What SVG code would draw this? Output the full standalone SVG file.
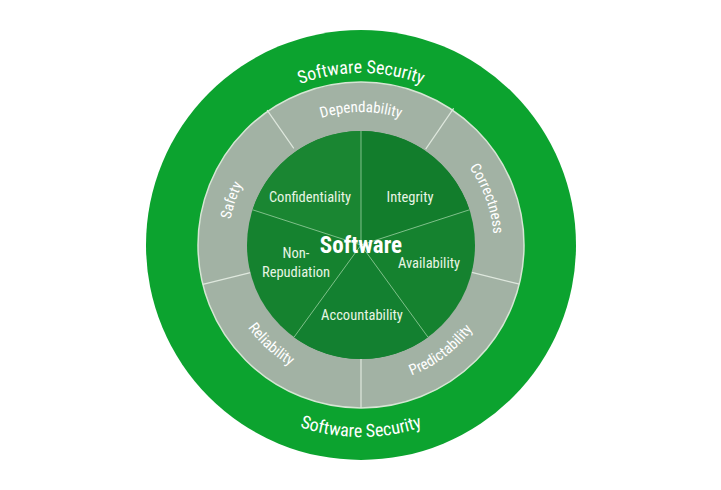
<svg xmlns="http://www.w3.org/2000/svg" width="721" height="490" viewBox="0 0 721 490">
<style>
.t{fill:#fff;font-family:"Liberation Sans Narrow","Roboto Condensed","DejaVu Sans Condensed",sans-serif;text-anchor:middle}
.in{fill:#e8f5e4;font-size:14.5px}
.ring{font-size:15px}
.sec{font-size:18px}
.div{stroke:#dfe8de;stroke-width:1.2}
.sp{stroke:#7fc08a;stroke-width:1}
</style>
<defs>
<path id="cw133" d="M361,378 A133,133 0 1 1 361,112 A133,133 0 1 1 361,378"/>
<path id="cw172" d="M361,417 A172,172 0 1 1 361,73 A172,172 0 1 1 361,417"/>
<path id="ccw140" d="M361,105 A140,140 0 1 0 361,385 A140,140 0 1 0 361,105"/>
<path id="ccw192" d="M361,53 A192,192 0 1 0 361,437 A192,192 0 1 0 361,53"/>
</defs>
<rect width="721" height="490" fill="#fff"/>
<g id="outer">
<circle cx="361" cy="245" r="215" fill="#0ca32f"/>
<text class="t sec"><textPath href="#cw172" startOffset="50%">Software Security</textPath></text>
<text class="t sec"><textPath href="#ccw192" startOffset="50%">Software Security</textPath></text>
</g>
<g id="ring">
<circle cx="361" cy="245" r="163" fill="#a2b2a4" stroke="#d6e6d4" stroke-width="1.5"/>
<text class="t ring"><textPath href="#cw133" startOffset="50%">Dependability</textPath></text>
<text class="t ring"><textPath href="#cw133" startOffset="69.4%">Correctness</textPath></text>
<text class="t ring"><textPath href="#cw133" startOffset="30.3%">Safety</textPath></text>
<text class="t ring"><textPath href="#ccw140" startOffset="60.3%">Predictability</textPath></text>
<text class="t ring"><textPath href="#ccw140" startOffset="38.3%">Reliability</textPath></text>
</g>
<g id="connectors">
<g class="div">
<line x1="293.8" y1="148.3" x2="267.1" y2="110.2" transform="rotate(0)"/>
<line x1="425.7" y1="149.1" x2="453.6" y2="108.3"/>
<line x1="471.8" y1="272.4" x2="519.4" y2="284.1"/>
<line x1="361" y1="359" x2="361" y2="408"/>
<line x1="250.4" y1="272.6" x2="202.8" y2="284.4"/>
</g>
</g>
<g id="core">
<circle cx="361" cy="245" r="114" fill="#15822f"/>
<path d="M361,245 L361,131 A114,114 0 0 0 252.6,209.8 Z" fill="#1a8632"/>
<path d="M361,245 L361,131 A114,114 0 0 1 469.4,209.8 Z" fill="#127d2c"/>
<path d="M361,245 L294,337.2 A114,114 0 0 0 428,337.2 Z" fill="#138030"/>
<g class="sp">
<line x1="361" y1="245" x2="361" y2="131"/>
<line x1="361" y1="245" x2="469.4" y2="209.8"/>
<line x1="361" y1="245" x2="428" y2="337.2"/>
<line x1="361" y1="245" x2="294" y2="337.2"/>
<line x1="361" y1="245" x2="252.6" y2="209.8"/>
</g>
<text class="t in" x="310" y="202">Confidentiality</text>
<text class="t in" x="410" y="202">Integrity</text>
<text class="t in" x="296" y="258">Non-</text>
<text class="t in" x="296" y="277">Repudiation</text>
<text class="t in" x="429" y="268">Availability</text>
<text class="t in" x="362" y="320">Accountability</text>
<text class="t" x="361" y="253" style="font-size:23px;font-weight:bold">Software</text>
</g>
</svg>
